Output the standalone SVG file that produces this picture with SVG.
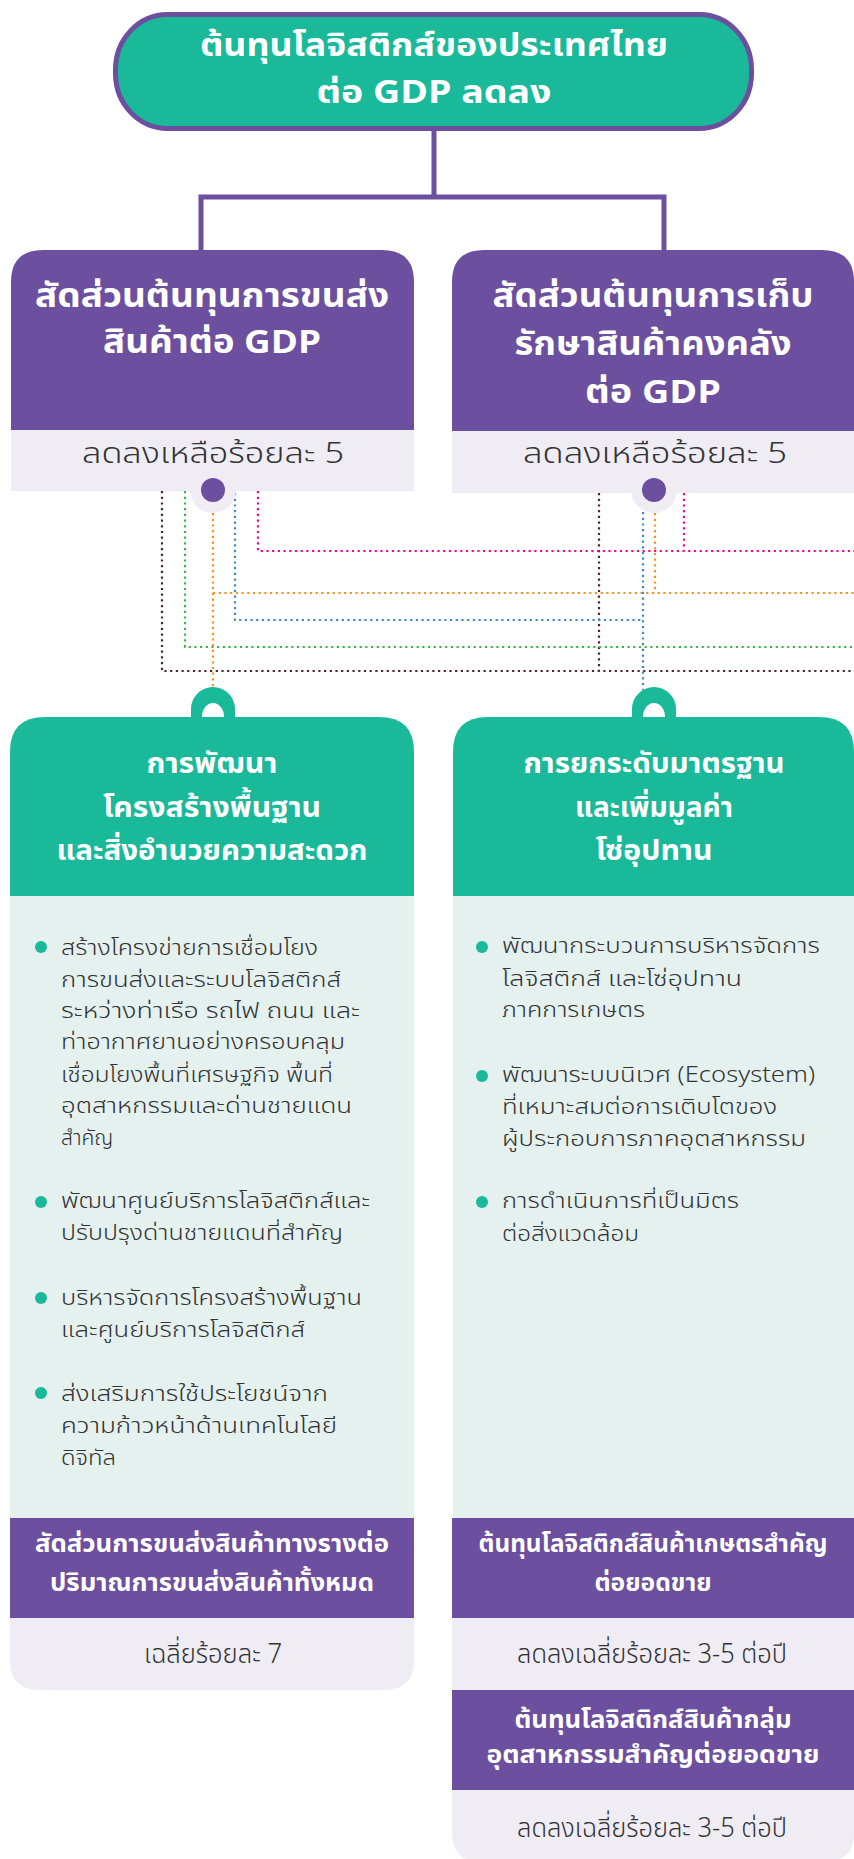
<svg xmlns="http://www.w3.org/2000/svg" width="854" height="1859" viewBox="0 0 854 1859">
<style>
.hd{font-family:"Noto Sans Thai","Noto Sans",sans-serif;font-weight:700;fill:#ffffff;text-anchor:middle}
.sb{font-family:"Noto Sans Thai","Noto Sans",sans-serif;font-weight:300;fill:#333333;text-anchor:middle}
.bt{font-family:"Noto Sans Thai","Noto Sans",sans-serif;font-weight:300;fill:#333333;font-size:21px}
.dot{fill:#19b99a}
.dl{fill:none;stroke-width:2.2;stroke-dasharray:2.2 3.5}
</style>
<rect width="854" height="1859" fill="#ffffff"/>

<g id="connectors">
  <path d="M434 131 V197 M201 250 V197 H664 V250" fill="none" stroke="#6c4f9e" stroke-width="5"/>
  <path class="dl" stroke="#4a2632" d="M162 491 V671 H854 M599 493 V671"/>
  <path class="dl" stroke="#3db44a" d="M185 491 V647 H854"/>
  <path class="dl" stroke="#f39220" d="M213 513 V688 M213 593 H854 M655 513 V593"/>
  <path class="dl" stroke="#3f88c9" d="M235 493 V620 H643 M643 512 V690"/>
  <path class="dl" stroke="#ec0b8d" d="M258 491 V551 H854 M684 493 V551"/>
</g>

<g id="top">
  <rect x="115.5" y="14.5" width="636" height="114" rx="52" ry="55" fill="#19b99a" stroke="#6c4f9e" stroke-width="5"/>
  <text class="hd" x="434" y="56" font-size="32" textLength="468" lengthAdjust="spacingAndGlyphs">ต้นทุนโลจิสติกส์ของประเทศไทย</text>
  <text class="hd" x="434" y="103" font-size="32" textLength="235" lengthAdjust="spacingAndGlyphs">ต่อ GDP ลดลง</text>
</g>

<g id="kpi-transport">
  <path d="M11 430 V282 Q11 250 43 250 H382 Q414 250 414 282 V430 Z" fill="#6c4f9e"/>
  <rect x="11" y="430" width="403" height="61" fill="#efecf4"/>
  <text class="hd" x="212" y="307" font-size="33" textLength="354" lengthAdjust="spacingAndGlyphs">สัดส่วนต้นทุนการขนส่ง</text>
  <text class="hd" x="212" y="353" font-size="33" textLength="218" lengthAdjust="spacingAndGlyphs">สินค้าต่อ GDP</text>
  <text class="sb" x="213" y="463" font-size="29" textLength="262" lengthAdjust="spacingAndGlyphs">ลดลงเหลือร้อยละ 5</text>
  <circle cx="213" cy="490" r="23" fill="#efecf4"/>
  <circle cx="213" cy="490" r="12" fill="#6c4f9e"/>
</g>

<g id="kpi-storage">
  <path d="M452 431 V282 Q452 250 484 250 H822 Q854 250 854 282 V431 Z" fill="#6c4f9e"/>
  <rect x="452" y="431" width="402" height="62" fill="#efecf4"/>
  <text class="hd" x="653" y="307" font-size="33" textLength="321" lengthAdjust="spacingAndGlyphs">สัดส่วนต้นทุนการเก็บ</text>
  <text class="hd" x="653" y="355" font-size="33" textLength="277" lengthAdjust="spacingAndGlyphs">รักษาสินค้าคงคลัง</text>
  <text class="hd" x="653" y="403" font-size="33" textLength="136" lengthAdjust="spacingAndGlyphs">ต่อ GDP</text>
  <text class="sb" x="655" y="463" font-size="29" textLength="264" lengthAdjust="spacingAndGlyphs">ลดลงเหลือร้อยละ 5</text>
  <circle cx="654" cy="490" r="23" fill="#efecf4"/>
  <circle cx="654" cy="490" r="12" fill="#6c4f9e"/>
</g>

<g id="strategy-infrastructure">
  <path d="M191 717 V709 A22 22 0 0 1 235 709 V717 Z M202 717 A11 14 0 0 1 224 717 Z" fill="#19b99a" fill-rule="evenodd"/>
  <path d="M10 896 V752 Q10 717 45 717 H379 Q414 717 414 752 V896 Z" fill="#19b99a"/>
  <rect x="10" y="896" width="404" height="622" fill="#e4f1ef"/>
  <rect x="10" y="1518" width="404" height="100" fill="#6c4f9e"/>
  <path d="M10 1618 H414 V1660 Q414 1690 384 1690 H40 Q10 1690 10 1660 Z" fill="#efecf4"/>
  <text class="hd" x="212" y="773" font-size="29" textLength="131" lengthAdjust="spacingAndGlyphs">การพัฒนา</text>
  <text class="hd" x="212" y="817" font-size="29" textLength="218" lengthAdjust="spacingAndGlyphs">โครงสร้างพื้นฐาน</text>
  <text class="hd" x="212" y="860" font-size="29" textLength="311" lengthAdjust="spacingAndGlyphs">และสิ่งอำนวยความสะดวก</text>
  <circle class="dot" cx="41" cy="947" r="6"/>
  <text class="bt" x="61" y="955" textLength="257" lengthAdjust="spacingAndGlyphs">สร้างโครงข่ายการเชื่อมโยง</text>
  <text class="bt" x="61" y="987" textLength="280" lengthAdjust="spacingAndGlyphs">การขนส่งและระบบโลจิสติกส์</text>
  <text class="bt" x="61" y="1018" textLength="299" lengthAdjust="spacingAndGlyphs">ระหว่างท่าเรือ รถไฟ ถนน และ</text>
  <text class="bt" x="61" y="1049" textLength="284" lengthAdjust="spacingAndGlyphs">ท่าอากาศยานอย่างครอบคลุม</text>
  <text class="bt" x="61" y="1082" textLength="272" lengthAdjust="spacingAndGlyphs">เชื่อมโยงพื้นที่เศรษฐกิจ พื้นที่</text>
  <text class="bt" x="61" y="1113" textLength="291" lengthAdjust="spacingAndGlyphs">อุตสาหกรรมและด่านชายแดน</text>
  <text class="bt" x="61" y="1145">สำคัญ</text>
  <circle class="dot" cx="41" cy="1202" r="6"/>
  <text class="bt" x="61" y="1208" textLength="309" lengthAdjust="spacingAndGlyphs">พัฒนาศูนย์บริการโลจิสติกส์และ</text>
  <text class="bt" x="61" y="1240" textLength="282" lengthAdjust="spacingAndGlyphs">ปรับปรุงด่านชายแดนที่สำคัญ</text>
  <circle class="dot" cx="41" cy="1298" r="6"/>
  <text class="bt" x="61" y="1305" textLength="301" lengthAdjust="spacingAndGlyphs">บริหารจัดการโครงสร้างพื้นฐาน</text>
  <text class="bt" x="61" y="1337" textLength="244" lengthAdjust="spacingAndGlyphs">และศูนย์บริการโลจิสติกส์</text>
  <circle class="dot" cx="41" cy="1393" r="6"/>
  <text class="bt" x="61" y="1401" textLength="267" lengthAdjust="spacingAndGlyphs">ส่งเสริมการใช้ประโยชน์จาก</text>
  <text class="bt" x="61" y="1433" textLength="276" lengthAdjust="spacingAndGlyphs">ความก้าวหน้าด้านเทคโนโลยี</text>
  <text class="bt" x="61" y="1465" textLength="55" lengthAdjust="spacingAndGlyphs">ดิจิทัล</text>
  <text class="hd" x="212" y="1552" font-size="25" textLength="354" lengthAdjust="spacingAndGlyphs">สัดส่วนการขนส่งสินค้าทางรางต่อ</text>
  <text class="hd" x="212" y="1591" font-size="25" textLength="324" lengthAdjust="spacingAndGlyphs">ปริมาณการขนส่งสินค้าทั้งหมด</text>
  <text class="sb" x="213" y="1663" font-size="27" textLength="138" lengthAdjust="spacingAndGlyphs">เฉลี่ยร้อยละ 7</text>
</g>

<g id="strategy-supplychain">
  <path d="M632 717 V709 A22 22 0 0 1 676 709 V717 Z M643 717 A11 14 0 0 1 665 717 Z" fill="#19b99a" fill-rule="evenodd"/>
  <path d="M453 896 V752 Q453 717 488 717 H819 Q854 717 854 752 V896 Z" fill="#19b99a"/>
  <rect x="453" y="896" width="401" height="622" fill="#e4f1ef"/>
  <rect x="452" y="1518" width="402" height="100" fill="#6c4f9e"/>
  <rect x="452" y="1618" width="402" height="72" fill="#efecf4"/>
  <rect x="452" y="1690" width="402" height="100" fill="#6c4f9e"/>
  <path d="M452 1790 H854 V1832 Q854 1862 824 1862 H482 Q452 1862 452 1832 Z" fill="#efecf4"/>
  <text class="hd" x="654" y="773" font-size="29" textLength="261" lengthAdjust="spacingAndGlyphs">การยกระดับมาตรฐาน</text>
  <text class="hd" x="654" y="817" font-size="29" textLength="158" lengthAdjust="spacingAndGlyphs">และเพิ่มมูลค่า</text>
  <text class="hd" x="654" y="860" font-size="29" textLength="117" lengthAdjust="spacingAndGlyphs">โซ่อุปทาน</text>
  <circle class="dot" cx="482" cy="947" r="6"/>
  <text class="bt" x="502" y="953" textLength="318" lengthAdjust="spacingAndGlyphs">พัฒนากระบวนการบริหารจัดการ</text>
  <text class="bt" x="502" y="986" textLength="240" lengthAdjust="spacingAndGlyphs">โลจิสติกส์ และโซ่อุปทาน</text>
  <text class="bt" x="502" y="1017" textLength="143" lengthAdjust="spacingAndGlyphs">ภาคการเกษตร</text>
  <circle class="dot" cx="482" cy="1076" r="6"/>
  <text class="bt" x="502" y="1082" textLength="313" lengthAdjust="spacingAndGlyphs">พัฒนาระบบนิเวศ (Ecosystem)</text>
  <text class="bt" x="502" y="1114" textLength="275" lengthAdjust="spacingAndGlyphs">ที่เหมาะสมต่อการเติบโตของ</text>
  <text class="bt" x="502" y="1146" textLength="304" lengthAdjust="spacingAndGlyphs">ผู้ประกอบการภาคอุตสาหกรรม</text>
  <circle class="dot" cx="482" cy="1202" r="6"/>
  <text class="bt" x="502" y="1208" textLength="237" lengthAdjust="spacingAndGlyphs">การดำเนินการที่เป็นมิตร</text>
  <text class="bt" x="502" y="1241" textLength="137" lengthAdjust="spacingAndGlyphs">ต่อสิ่งแวดล้อม</text>
  <text class="hd" x="653" y="1552" font-size="25" textLength="349" lengthAdjust="spacingAndGlyphs">ต้นทุนโลจิสติกส์สินค้าเกษตรสำคัญ</text>
  <text class="hd" x="653" y="1591" font-size="25" textLength="117" lengthAdjust="spacingAndGlyphs">ต่อยอดขาย</text>
  <text class="sb" x="652" y="1663" font-size="27" textLength="270" lengthAdjust="spacingAndGlyphs">ลดลงเฉลี่ยร้อยละ 3-5 ต่อปี</text>
  <text class="hd" x="653" y="1728" font-size="25" textLength="277" lengthAdjust="spacingAndGlyphs">ต้นทุนโลจิสติกส์สินค้ากลุ่ม</text>
  <text class="hd" x="653" y="1763" font-size="25" textLength="333" lengthAdjust="spacingAndGlyphs">อุตสาหกรรมสำคัญต่อยอดขาย</text>
  <text class="sb" x="652" y="1837" font-size="27" textLength="270" lengthAdjust="spacingAndGlyphs">ลดลงเฉลี่ยร้อยละ 3-5 ต่อปี</text>
</g>
</svg>
